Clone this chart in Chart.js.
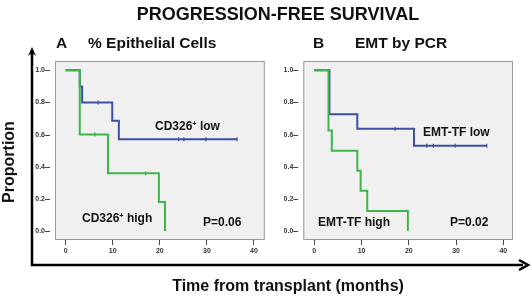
<!DOCTYPE html>
<html lang="en">
<head>
  <meta charset="UTF-8">
  <title>Progression-free survival</title>
  <script src="https://cdn.jsdelivr.net/npm/chart.js"></script>
  <style>
    html, body { margin: 0; padding: 0; background: #fff; }
    #page { position: relative; width: 532px; height: 298px; overflow: hidden; font-family: "Liberation Sans", Arial, sans-serif; color: #111; }
    .t { position: absolute; font-weight: bold; white-space: nowrap; line-height: 1; }
    .t sup { font-size: 0.6em; vertical-align: 0.55em; line-height: 0; }
    canvas { position: absolute; top: 0; }
    svg { position: absolute; left: 0; top: 0; }
  </style>
</head>
<body>
<div id="page">
  <svg width="532" height="298">
    <polyline points="32,52 32,265 523,265" fill="none" stroke="#000" stroke-width="2.5"/>
    <polygon points="32,47 28,56 32,53 36,56" fill="#000"/>
    <polyline points="519,260 528,265 519,270" fill="none" stroke="#000" stroke-width="2.5"/>
  </svg>

  <canvas id="chartA" width="270" height="298" style="left:0"></canvas>
  <canvas id="chartB" width="262" height="298" style="left:270px"></canvas>

  <div class="t" style="left:78px;width:400px;text-align:center;top:5px;font-size:18px">PROGRESSION-FREE SURVIVAL</div>
  <div class="t" style="left:56px;top:35px;font-size:15.5px">A</div>
  <div class="t" style="left:88px;top:35px;font-size:15.5px">% Epithelial Cells</div>
  <div class="t" style="left:313px;top:35px;font-size:15.5px">B</div>
  <div class="t" style="left:355px;top:35px;font-size:15.5px">EMT by PCR</div>
  <div class="t" style="left:-33px;top:154px;width:84px;text-align:center;font-size:16px;transform:rotate(-90deg)">Proportion</div>
  <div class="t" style="left:88px;width:400px;text-align:center;top:278px;font-size:16px">Time from transplant (months)</div>

  <div class="t" style="left:155px;top:120px;font-size:12px">CD326<sup>+</sup> low</div>
  <div class="t" style="left:82px;top:212px;font-size:12px">CD326<sup>+</sup> high</div>
  <div class="t" style="left:203px;top:216px;font-size:12px">P=0.06</div>
  <div class="t" style="left:423px;top:126px;font-size:12px">EMT-TF low</div>
  <div class="t" style="left:318px;top:216px;font-size:12px">EMT-TF high</div>
  <div class="t" style="left:450px;top:216px;font-size:12px">P=0.02</div>
</div>

<script>
  // Kaplan-Meier steps (time in months, proportion)
  const epiLowT = [0, 3.0, 3.5, 9.9, 11.3, 36.4];
  const epiLowS = [1, 0.9, 0.8, 0.686, 0.571, 0.571];
  const epiLowCensT = [6.9, 24.0, 25.1, 29.8, 36.4];
  const epiLowCensS = [0.8, 0.571, 0.571, 0.571, 0.571];

  const epiHighT = [0, 3.0, 9.0, 19.8, 21.1];
  const epiHighS = [1, 0.6, 0.36, 0.18, 0];
  const epiHighCensT = [6.2, 17.0];
  const epiHighCensS = [0.6, 0.36];

  const emtLowT = [0, 3.2, 9.1, 21.1, 36.5];
  const emtLowS = [1, 0.727, 0.636, 0.53, 0.53];
  const emtLowCensT = [17.1, 23.8, 25.2, 29.8, 36.5];
  const emtLowCensS = [0.636, 0.53, 0.53, 0.53, 0.53];

  const emtHighT = [0, 3.0, 3.7, 9.1, 9.8, 11.2, 19.8];
  const emtHighS = [1, 0.625, 0.5, 0.375, 0.25, 0.125, 0];

  const xTicks = [0, 10, 20, 30, 40];
  const yTicks = [0, 0.2, 0.4, 0.6, 0.8, 1.0];

  const BLUE = '#3d4fa3';
  const GREEN = '#3db54a';

  const pts = (t, s) => t.map((v, i) => ({ x: v, y: s[i] }));

  // grey plot box + y tick dashes standing off the box
  const boxPlugin = {
    id: 'box',
    beforeDraw(chart) {
      const { ctx, chartArea: a } = chart;
      ctx.save();
      ctx.fillStyle = '#f0f0f0';
      ctx.fillRect(a.left, a.top, a.right - a.left, a.bottom - a.top);
      ctx.strokeStyle = '#9a9a9a';
      ctx.lineWidth = 1;
      ctx.strokeRect(a.left + 0.5, a.top + 0.5, a.right - a.left - 1, a.bottom - a.top - 1);
      const ys = chart.scales.y;
      ctx.strokeStyle = '#444';
      yTicks.forEach(v => {
        const y = Math.round(ys.getPixelForValue(v)) + 0.5;
        ctx.beginPath();
        ctx.moveTo(a.left - 10, y);
        ctx.lineTo(a.left - 5, y);
        ctx.stroke();
      });
      ctx.restore();
    }
  };

  // horizontal first, then drop at the event time
  function step(data, color) {
    return { data, showLine: true, stepped: 'before', borderColor: color, borderWidth: 2, pointRadius: 0, fill: false };
  }
  function cens(data, color) {
    return { data, showLine: false, pointStyle: 'line', rotation: 90, radius: 2, borderColor: color, borderWidth: 1.2, backgroundColor: color };
  }

  function makeChart(id, datasets, xMin, xMax, pad) {
    new Chart(document.getElementById(id), {
      type: 'scatter',
      data: { datasets },
      options: {
        responsive: false,
        animation: false,
        layout: { padding: pad },
        plugins: { legend: { display: false }, tooltip: { enabled: false } },
        scales: {
          x: {
            type: 'linear', min: xMin, max: xMax,
            afterBuildTicks: s => { s.ticks = xTicks.map(v => ({ value: v })); },
            afterFit: s => { s.height = 20; },
            border: { display: false },
            grid: { drawOnChartArea: false, drawTicks: true, tickLength: 5, color: '#444' },
            ticks: { padding: 2, color: '#333', font: { family: 'Liberation Sans', size: 7, weight: 'bold' }, maxRotation: 0 }
          },
          y: {
            type: 'linear', min: -0.056, max: 1.058,
            afterBuildTicks: s => { s.ticks = yTicks.map(v => ({ value: v })); },
            afterFit: s => { s.width = 20; },
            border: { display: false },
            grid: { drawOnChartArea: false, drawTicks: false },
            ticks: { padding: 10, color: '#333', font: { family: 'Liberation Sans', size: 7, weight: 'bold' },
                     callback: v => v.toFixed(1) }
          }
        }
      },
      plugins: [boxPlugin]
    });
  }

  makeChart('chartA', [
    step(pts(epiHighT, epiHighS), GREEN),
    cens(pts(epiHighCensT, epiHighCensS), GREEN),
    step(pts(epiLowT, epiLowS), BLUE),
    cens(pts(epiLowCensT, epiLowCensS), BLUE)
  ], -2.26, 42.3, { left: 35, right: 4, top: 61, bottom: 38 });

  makeChart('chartB', [
    step(pts(emtHighT, emtHighS), GREEN),
    step(pts(emtLowT, emtLowS), BLUE),
    cens(pts(emtLowCensT, emtLowCensS), BLUE)
  ], -2.33, 42.05, { left: 13.3, right: 19, top: 61, bottom: 38 });
</script>
</body>
</html>
